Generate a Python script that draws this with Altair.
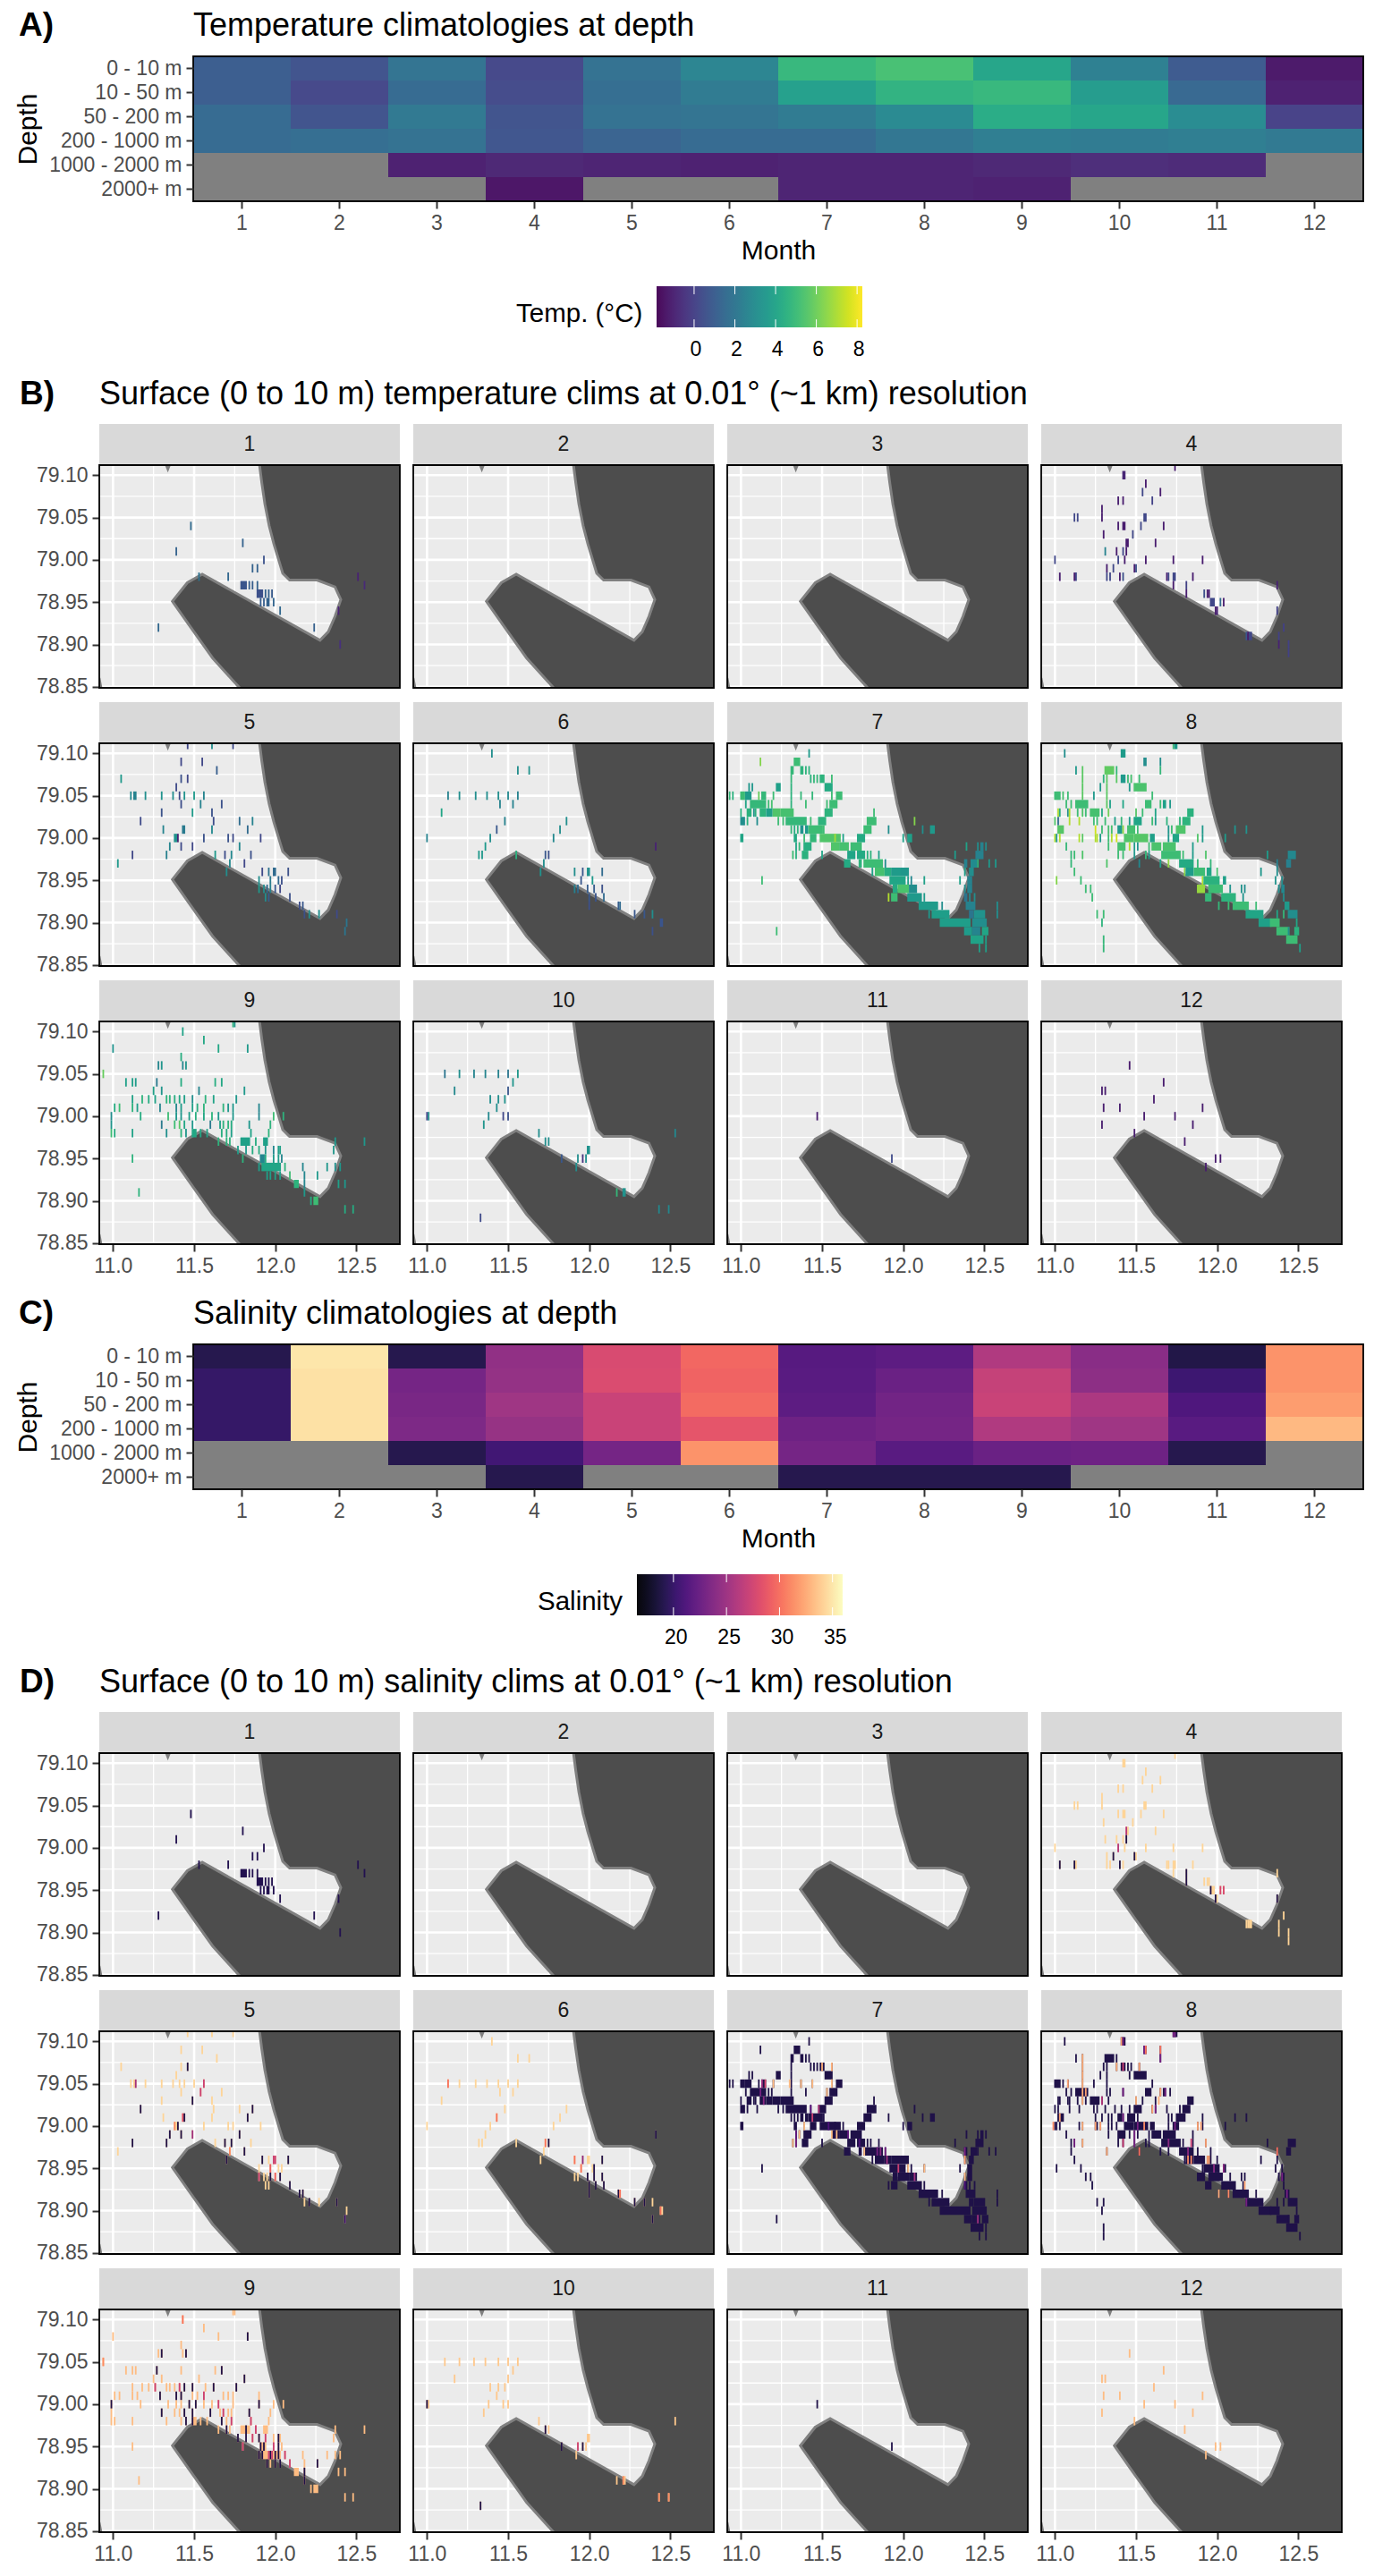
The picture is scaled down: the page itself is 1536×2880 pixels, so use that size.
import altair as alt
import pandas as pd

FONT = "Liberation Sans"
MONTHS = list(range(1, 13))
DEPTHS = ["0 - 10 m", "10 - 50 m", "50 - 200 m", "200 - 1000 m", "1000 - 2000 m", "2000+ m"]

TEMP_DOMAIN = [-1.93, 8.17]
SAL_DOMAIN = [16.3, 35.7]
TEMP_TICKS = [0, 2, 4, 6, 8]
SAL_TICKS = [20, 25, 30, 35]

# climatologies at depth: one row per depth, None = no data
TEMP_CLIM = [
    [0.90, 0.49, 1.81, 0.09, 1.71, 2.51, 4.74, 5.14, 3.93, 2.31, 0.80, -1.43],
    [0.90, 0.09, 1.40, 0.19, 1.50, 2.11, 3.73, 4.53, 4.74, 3.52, 1.30, -1.22],
    [1.40, 0.49, 2.01, 0.49, 1.71, 1.81, 2.11, 2.72, 4.23, 3.93, 2.82, -0.11],
    [1.40, 1.50, 1.71, 0.60, 1.10, 1.40, 1.40, 1.91, 2.21, 2.11, 2.21, 2.01],
    [None, None, -1.22, -1.02, -1.12, -1.22, -1.12, -1.12, -1.02, -0.82, -0.92, None],
    [None, None, None, -1.53, None, None, -1.12, -1.12, -1.22, None, None, None],
]
SAL_CLIM = [
    [18.8, 34.7, 18.8, 24.1, 27.6, 29.3, 21.2, 21.5, 25.6, 23.7, 18.6, 31.2],
    [19.6, 34.5, 22.7, 24.3, 27.7, 29.1, 21.3, 22.1, 26.6, 23.9, 20.0, 31.2],
    [19.6, 34.5, 22.9, 24.8, 26.8, 29.5, 21.5, 22.5, 26.8, 25.4, 20.8, 31.6],
    [19.6, 34.5, 23.1, 24.4, 26.8, 28.3, 22.3, 22.7, 25.6, 24.8, 21.3, 32.8],
    [None, None, 18.8, 20.2, 22.7, 31.2, 22.7, 21.3, 22.1, 22.3, 18.8, None],
    [None, None, None, 18.8, None, None, 18.8, 18.8, 18.8, None, None, None],
]

# surface cells per month: {lat: [(lon, temp) or (lon_from, lon_to, temp), ...]}
CELLS = {
    1: {
        79.04: [(11.48, 1.5)], 79.02: [(11.80, 1.2)], 79.01: [(11.39, 1.2)], 79.00: [(11.93, 0.6)],
        78.99: [(11.86, 1.2), (11.89, 1.2)], 78.98: [(11.53, 1.8), (11.71, 1.4), (12.51, -1.0)],
        78.97: [(11.79, 11.82, 0.7), (11.84, 1.0), (11.86, 1.0), (11.89, 1.2), (12.55, -0.8)],
        78.96: [(11.89, 11.92, 0.5), (11.94, 1.2), (11.96, 1.2), (11.98, 0.9)],
        78.95: [(11.91, 1.0), (11.93, 1.0), (11.95, 11.96, 1.2), (11.99, 1.3)],
        78.94: [(12.03, 1.4), (12.39, -1.0)], 78.92: [(11.28, 1.4), (12.24, 1.1)], 78.90: [(12.40, -0.6)],
    },
    2: {},
    3: {},
    4: {
        79.11: [(11.74, -1.2)], 79.10: [(11.42, 11.43, -0.9)], 79.09: [(11.56, -1.2)],
        79.08: [(11.54, 0.2), (11.65, -1.2)], 79.07: [(11.39, -1.2), (11.42, -1.2), (11.60, 0.0)],
        79.06: [(11.29, -1.2)], 79.05: [(11.12, 0.2), (11.14, 0.2), (11.29, -1.2), (11.55, 11.56, 0.2)],
        79.04: [(11.39, -1.2), (11.42, 11.43, -1.2), (11.53, 0.2), (11.67, -1.2)],
        79.03: [(11.30, -1.2), (11.48, 0.2)], 79.02: [(11.44, 11.45, -1.2), (11.62, -1.2)],
        79.01: [(11.31, 2.5), (11.38, -1.2), (11.42, 0.2), (11.44, -1.2)],
        79.00: [(11.00, 0.2), (11.39, 0.2), (11.43, -1.2), (11.56, -1.2), (11.73, -1.2), (11.91, -1.2)],
        78.99: [(11.32, -1.2), (11.36, 0.2), (11.49, -1.2), (11.50, 0.5)],
        78.98: [(11.03, -1.2), (11.12, -1.2), (11.13, 0.2), (11.32, 0.2), (11.34, 0.2), (11.40, -1.2),
                (11.42, 0.5), (11.69, -1.2), (11.70, 0.2), (11.73, 11.74, 0.2), (11.85, -1.2)],
        78.97: [(11.73, -1.2), (11.81, 0.0), (12.37, -1.0)],
        78.96: [(11.81, -1.2), (11.92, 0.5), (11.94, -1.2), (11.95, -1.2)],
        78.95: [(11.96, 11.98, 0.2), (12.02, 1.5), (12.04, -1.2)],
        78.94: [(11.99, -1.2), (12.00, -1.0), (12.37, 0.0)], 78.92: [(12.41, 0.0)],
        78.91: [(12.18, 0.8), (12.19, -1.2), (12.20, 12.21, 0.2), (12.38, 0.0)],
        78.90: [(12.38, -1.0), (12.44, 0.0)], 78.89: [(12.44, 0.0)],
    },
    5: {
        79.11: [(11.46, 0.2), (11.61, 3.0), (11.74, 0.3)], 79.09: [(11.42, 0.2), (11.55, 0.2)], 79.08: [(11.64, 1.0)],
        79.07: [(11.05, 3.5), (11.42, 0.5), (11.46, 0.2)], 79.06: [(11.39, 0.3)],
        79.05: [(11.11, 2.8), (11.13, 11.14, 2.5), (11.20, 3.0), (11.30, 3.2), (11.37, 3.0), (11.41, 0.3),
                (11.44, 3.2), (11.50, 3.5), (11.56, 2.6)],
        79.04: [(11.42, 0.4), (11.54, 2.5), (11.67, 0.6)], 79.03: [(11.30, 0.6), (11.49, 3.6), (11.61, 0.6)],
        79.02: [(11.17, 0.3), (11.62, 0.4), (11.78, 1.6), (11.86, 2.5)],
        79.01: [(11.31, 2.6), (11.43, 11.44, 2.2), (11.61, 2.8), (11.83, 1.5)],
        79.00: [(11.38, 11.39, 3.2), (11.40, -1.0), (11.56, 0.6), (11.71, 0.6), (11.74, 0.3), (11.91, 0.2)],
        78.99: [(11.35, 2.6), (11.42, 0.3), (11.49, 0.2), (11.78, 2.8)],
        78.98: [(11.12, 0.2), (11.33, 2.4), (11.63, 3.5), (11.69, 0.4), (11.73, 2.8), (11.85, 0.5)],
        78.97: [(11.03, 3.5), (11.72, 2.8), (11.81, 0.2)],
        78.96: [(11.70, 3.0), (11.92, 0.3), (11.96, 1.8), (11.99, 12.00, 1.5), (12.08, 0.5)],
        78.95: [(11.90, 3.0), (11.97, 2.2), (12.02, 1.4), (12.04, 0.5)],
        78.94: [(11.90, 3.5), (11.93, 3.0), (11.95, 1.5), (11.97, 2.5), (12.00, 0.8), (12.03, 0.2)],
        78.93: [(11.94, 3.0), (11.96, 1.0), (12.09, 0.5)], 78.92: [(12.15, 0.4), (12.17, 0.8)],
        78.91: [(12.18, 0.5), (12.21, 3.0), (12.27, 3.0), (12.38, 0.3)], 78.90: [(12.44, 2.0)], 78.89: [(12.43, 2.0)],
    },
    6: {
        79.10: [(11.40, 3.0)], 79.08: [(11.56, 3.0), (11.63, 3.2)],
        79.05: [(11.13, 2.5), (11.20, 3.0), (11.30, 3.0), (11.37, 3.0), (11.44, 3.0), (11.50, 2.8), (11.56, 2.5)],
        79.04: [(11.45, 2.5), (11.53, 2.5)], 79.03: [(11.09, 4.0)], 79.02: [(11.48, 2.5), (11.86, 3.0)],
        79.01: [(11.43, 0.8), (11.82, 3.0)], 79.00: [(11.00, 2.5), (11.39, 3.0), (11.78, 2.8)],
        78.99: [(11.36, 3.5), (12.41, -1.0)],
        78.98: [(11.32, 3.5), (11.34, 3.5), (11.55, 4.5), (11.73, 0.8), (11.75, 0.5)], 78.97: [(11.72, 3.0)],
        78.96: [(11.70, 3.2), (11.91, 3.0), (11.96, 0.8), (11.99, 12.00, 3.2), (12.08, 1.5)],
        78.95: [(11.95, 0.8), (12.02, 3.5)],
        78.94: [(11.91, 2.5), (11.93, 1.5), (11.99, 1.0), (12.03, 0.9), (12.08, 0.5)],
        78.93: [(12.00, 0.8), (12.04, 0.7), (12.09, 1.5)], 78.92: [(12.00, 0.5), (12.18, 1.0), (12.19, 1.5)],
        78.91: [(12.28, 0.8), (12.34, 0.8), (12.39, 3.0)], 78.90: [(12.44, 12.45, 0.7)], 78.89: [(12.39, 0.5)],
    },
    7: {
        79.10: [(11.42, 3.6)], 79.09: [(11.12, 6.3), (11.33, 11.36, 5.0)],
        79.08: [(11.31, 11.32, 4.8), (11.37, 11.38, 4.6), (11.40, 4.6), (11.42, 4.6)],
        79.07: [(11.31, 4.8), (11.43, 4.5), (11.45, 4.8), (11.47, 4.8), (11.49, 11.51, 4.6), (11.56, 5.0)],
        79.06: [(11.05, 3.4), (11.07, 3.4), (11.22, 11.24, 3.8), (11.31, 4.6), (11.52, 11.56, 4.2)],
        79.05: [(10.93, 4.8), (10.95, 4.5), (11.00, 11.02, 5.0), (11.03, 11.06, 3.6), (11.11, 5.8), (11.13, 11.15, 4.8),
                (11.20, 5.0), (11.31, 4.6), (11.37, 4.8), (11.44, 4.8), (11.56, 5.0), (11.59, 11.62, 5.0)],
        79.04: [(11.03, 4.0), (11.06, 11.15, 4.8), (11.17, 5.0), (11.19, 5.2), (11.31, 4.6), (11.40, 5.0), (11.53, 5.0),
                (11.55, 11.59, 5.0)],
        79.03: [(11.00, 4.5), (11.04, 11.06, 4.5), (11.08, 3.2), (11.09, 4.5), (11.12, 11.15, 4.6), (11.16, 11.19, 3.8),
                (11.20, 11.24, 5.4), (11.25, 11.32, 5.2), (11.52, 11.56, 4.6), (11.82, 5.0)],
        79.02: [(11.00, 11.02, 3.0), (11.04, 4.5), (11.10, 3.0), (11.23, 5.0), (11.26, 5.0), (11.28, 11.40, 4.8),
                (11.43, 5.0), (11.48, 11.52, 4.6), (11.78, 11.83, 5.0), (12.07, 6.3)],
        79.01: [(11.31, 4.8), (11.33, 4.4), (11.35, 4.6), (11.37, 11.38, 3.2), (11.40, 11.41, 3.5), (11.42, 11.50, 5.0),
                (11.51, 5.0), (11.76, 11.80, 5.0), (11.91, 3.0), (12.12, 3.0), (12.17, 12.19, 3.5)],
        79.00: [(11.00, 11.01, 4.0), (11.33, 11.34, 4.2), (11.39, 5.0), (11.43, 11.46, 4.8), (11.49, 11.61, 5.4),
                (11.58, 6.8), (11.63, 3.8), (11.72, 11.76, 4.2), (12.00, 3.8), (12.03, 12.05, 3.8)],
        78.99: [(11.34, 4.0), (11.36, 4.8), (11.39, 11.43, 4.4), (11.56, 11.60, 5.4), (11.61, 11.66, 5.2),
                (11.68, 11.74, 5.0), (12.39, 3.9), (12.46, 3.0), (12.48, 12.49, 2.5), (12.51, 3.0)],
        78.98: [(11.32, 5.0), (11.34, 4.5), (11.38, 11.41, 4.5), (11.50, 4.0), (11.66, 11.70, 4.0), (11.72, 11.76, 4.2),
                (11.78, 4.5), (11.80, 4.6), (11.85, 3.8), (12.32, 3.6), (12.45, 12.49, 2.5)],
        78.97: [(11.64, 11.67, 4.2), (11.73, 11.74, 4.6), (11.76, 11.87, 5.0), (11.89, 3.0), (12.38, 12.39, 2.5),
                (12.42, 12.45, 2.9), (12.46, 4.6), (12.53, 3.5), (12.57, 3.5)],
        78.96: [(11.81, 3.8), (11.83, 11.88, 5.2), (11.89, 11.92, 4.4), (11.93, 11.98, 3.6), (11.99, 12.03, 3.4),
                (12.38, 3.8), (12.41, 12.43, 3.0)],
        78.95: [(11.13, 5.0), (11.92, 12.01, 4.0), (12.03, 3.6), (12.05, 2.8), (12.13, 3.8), (12.35, 3.8), (12.40, 12.42, 2.5)],
        78.94: [(11.94, 11.96, 4.2), (11.97, 12.03, 5.3), (12.04, 12.08, 3.0), (12.38, 3.0), (12.40, 12.42, 2.5)],
        78.93: [(11.91, 7.0), (11.93, 11.96, 5.0), (12.03, 12.11, 3.5), (12.13, 3.6), (12.38, 12.39, 2.0), (12.41, 2.8), (12.44, 3.0)],
        78.92: [(12.10, 12.21, 3.6), (12.24, 3.0), (12.39, 12.44, 2.5), (12.58, 3.0)],
        78.91: [(12.16, 3.4), (12.18, 12.28, 3.7), (12.41, 12.43, 2.0), (12.44, 12.50, 3.2), (12.58, 3.0)],
        78.90: [(12.23, 12.41, 3.7), (12.43, 12.51, 3.0)],
        78.89: [(11.22, 5.0), (12.38, 12.42, 3.6), (12.43, 12.47, 2.6), (12.49, 12.52, 4.0)],
        78.88: [(12.42, 12.49, 3.9), (12.51, 3.8)], 78.87: [(12.47, 3.8), (12.51, 3.8)],
    },
    8: {
        79.11: [(11.73, 5.0), (11.74, 11.75, 3.5)], 79.10: [(11.06, 3.0), (11.41, 11.43, 3.6)],
        79.09: [(11.55, 11.56, 3.0), (11.65, 3.0)],
        79.08: [(11.13, 3.5), (11.17, 5.6), (11.31, 11.36, 5.7), (11.38, 4.8), (11.65, 4.8)],
        79.07: [(11.17, 5.6), (11.30, 4.6), (11.32, 5.6), (11.38, 5.6), (11.41, 11.43, 3.5), (11.45, 5.0), (11.47, 5.2), (11.52, 5.0)],
        79.06: [(11.17, 5.6), (11.28, 3.5), (11.32, 5.6), (11.46, 3.5), (11.49, 11.56, 5.3)],
        79.05: [(11.00, 11.03, 5.0), (11.05, 5.2), (11.08, 5.0), (11.17, 5.6), (11.24, 3.5), (11.32, 5.6), (11.60, 5.0)],
        79.04: [(11.07, 5.0), (11.10, 5.0), (11.13, 11.20, 5.0), (11.32, 5.6), (11.34, 3.8), (11.42, 4.0), (11.56, 11.59, 5.0),
                (11.65, 5.0), (11.67, 11.68, 3.8), (11.71, 3.5)],
        79.03: [(11.02, 7.0), (11.03, 4.4), (11.08, 3.0), (11.09, 7.0), (11.14, 5.0), (11.17, 5.4), (11.19, 5.0),
                (11.22, 11.27, 5.2), (11.29, 4.2), (11.33, 6.0), (11.50, 5.5), (11.54, 5.0), (11.62, 4.0), (11.82, 11.85, 4.5)],
        79.02: [(11.00, 5.4), (11.02, 1.5), (11.09, 7.0), (11.15, 7.0), (11.24, 5.0), (11.26, 5.0), (11.31, 5.0), (11.37, 3.8),
                (11.41, 4.8), (11.46, 3.5), (11.49, 11.53, 4.0), (11.60, 5.0), (11.62, 3.5), (11.69, 4.6), (11.77, 4.6), (11.79, 11.83, 4.6)],
        79.01: [(11.02, 11.05, 5.5), (11.25, 7.5), (11.29, 5.0), (11.33, 5.2), (11.35, 5.2), (11.39, 11.41, 3.5), (11.42, 6.5),
                (11.45, 11.49, 5.2), (11.51, 5.0), (11.70, 3.4), (11.72, 5.0), (11.75, 11.80, 5.4), (11.91, 3.5), (12.11, 3.2), (12.18, 3.2)],
        79.00: [(11.00, 7.0), (11.01, 3.3), (11.03, 7.0), (11.15, 7.0), (11.17, 5.6), (11.25, 7.0), (11.26, 7.0), (11.28, 3.5),
                (11.33, 5.0), (11.35, 7.0), (11.38, 7.5), (11.43, 11.48, 5.4), (11.49, 11.57, 5.5), (11.59, 11.61, 3.8), (11.70, 3.4),
                (11.73, 11.76, 4.0), (11.88, 5.4), (11.91, 3.6), (12.05, 3.6)],
        78.99: [(11.07, 4.8), (11.33, 5.0), (11.39, 11.43, 5.2), (11.46, 7.0), (11.49, 3.6), (11.51, 3.2), (11.58, 5.0),
                (11.60, 11.65, 5.3), (11.67, 11.74, 5.3), (11.85, 3.6)],
        78.98: [(11.10, 4.8), (11.12, 5.0), (11.17, 5.4), (11.39, 5.0), (11.42, 5.0), (11.49, 3.5), (11.56, 4.8), (11.58, 3.5),
                (11.66, 11.77, 5.0), (11.79, 5.0), (11.85, 3.6), (11.93, 5.4), (12.31, 3.6), (12.44, 12.48, 2.8)],
        78.97: [(11.10, 4.8), (11.32, 5.4), (11.52, 2.8), (11.65, 3.8), (11.70, 6.5), (11.77, 11.85, 4.2), (11.88, 4.8),
                (11.96, 4.8), (12.37, 12.37, 2.4), (12.43, 12.45, 2.4)],
        78.96: [(11.12, 5.0), (11.80, 6.4), (11.81, 11.85, 3.6), (11.86, 11.92, 5.0), (11.94, 11.96, 4.0), (12.00, 5.2), (12.27, 3.4), (12.37, 3.0)],
        78.95: [(11.01, 6.3), (11.16, 5.0), (11.91, 7.0), (11.92, 12.01, 4.5), (12.04, 12.05, 3.8), (12.36, 3.2), (12.40, 3.0)],
        78.94: [(11.19, 5.0), (11.22, 5.0), (11.88, 11.92, 6.6), (11.95, 12.03, 5.0), (12.08, 3.2), (12.15, 3.2), (12.17, 3.0),
                (12.38, 3.0), (12.40, 12.41, 2.8)],
        78.93: [(11.23, 5.0), (11.93, 11.96, 4.8), (12.03, 12.11, 4.6), (12.16, 3.2), (12.41, 3.0)],
        78.92: [(12.01, 4.8), (12.07, 5.0), (12.10, 12.19, 5.0), (12.24, 5.0), (12.42, 12.44, 3.5)],
        78.91: [(11.26, 5.0), (11.30, 5.0), (12.18, 12.28, 4.0), (12.37, 4.0), (12.41, 4.8), (12.44, 12.49, 3.0)],
        78.90: [(11.29, 4.6), (12.26, 12.33, 3.8), (12.33, 12.38, 5.0), (12.49, 4.0)],
        78.89: [(12.37, 12.44, 5.0), (12.44, 3.0), (12.48, 12.50, 4.5)],
        78.88: [(11.30, 4.8), (12.43, 12.49, 5.0)], 78.87: [(11.30, 4.8), (12.51, 3.8)],
    },
    9: {
        79.11: [(11.74, 4.6), (11.75, 3.4)], 79.10: [(11.43, 3.9)], 79.09: [(11.56, 4.1)],
        79.08: [(11.00, 3.2), (11.65, 4.1), (11.83, 3.5)], 79.07: [(11.42, 4.4)],
        79.06: [(11.28, 2.7), (11.30, 3.3), (11.43, 2.7), (11.45, 3.3)], 79.05: [(10.94, 5.8)],
        79.04: [(11.08, 3.8), (11.12, 3.8), (11.14, 3.6), (11.27, 2.2), (11.42, 4.3), (11.63, 4.4), (11.67, 4.1)],
        79.03: [(11.25, 3.8), (11.30, 3.3), (11.53, 2.7), (11.81, 3.5)],
        79.02: [(11.12, 3.9), (11.18, 4.6), (11.22, 4.3), (11.26, 3.9), (11.33, 4.6), (11.35, 4.6), (11.38, 4.4), (11.41, 4.1),
                (11.44, 3.8), (11.49, 3.1), (11.57, 4.6), (11.62, 3.9), (11.76, 3.4)],
        79.01: [(11.01, 4.3), (11.04, 5.0), (11.12, 4.6), (11.15, 3.8), (11.29, 2.7), (11.39, 2.8), (11.42, 3.6), (11.49, 3.8),
                (11.52, 4.4), (11.56, 4.6), (11.68, 4.6), (11.71, 3.4), (11.74, 3.4), (11.90, 2.7)],
        79.00: [(10.99, 3.0), (11.17, 4.3), (11.34, 5.0), (11.39, 3.4), (11.42, 3.4), (11.47, 3.7), (11.51, 4.4), (11.56, 4.1),
                (11.61, 4.6), (11.65, 3.4), (11.74, 3.4), (11.90, 2.7), (11.99, 5.0), (12.05, 4.6)],
        78.99: [(10.99, 3.3), (11.30, 2.2), (11.38, 5.0), (11.41, 5.5), (11.44, 4.1), (11.49, 3.4), (11.60, 2.2), (11.66, 3.8),
                (11.68, 4.6), (11.71, 4.6), (11.73, 4.3), (11.84, 3.4), (11.97, 4.6)],
        78.98: [(10.99, 5.0), (11.01, 4.3), (11.12, 3.9), (11.33, 3.1), (11.42, 4.6), (11.45, 3.4), (11.49, 11.51, 4.1), (11.54, 4.1),
                (11.58, 3.9), (11.67, 4.4), (11.70, 4.3), (11.73, 3.8), (11.85, 3.9), (11.96, 4.6)],
        78.97: [(11.65, 4.6), (11.70, 4.6), (11.72, 4.6), (11.79, 11.84, 3.8), (11.88, 4.3), (11.93, 11.95, 3.8), (12.37, 3.4), (12.55, 3.4)],
        78.96: [(11.77, 3.7), (11.82, 3.5), (11.86, 4.3), (11.90, 4.3), (11.94, 3.4), (11.99, 2.7), (12.02, 3.8), (12.03, 3.8), (12.36, 3.4)],
        78.95: [(11.12, 4.6), (11.80, 4.6), (11.91, 11.93, 2.7), (11.94, 4.3), (11.99, 3.6), (12.02, 3.6), (12.04, 2.7)],
        78.94: [(11.90, 3.7), (11.92, 12.03, 4.0), (12.06, 4.6), (12.17, 2.7), (12.32, 3.4), (12.37, 3.1), (12.40, 3.4)],
        78.93: [(11.95, 3.8), (11.97, 3.8), (12.00, 3.8), (12.03, 3.8), (12.09, 5.0), (12.18, 2.7), (12.26, 3.5)],
        78.92: [(12.12, 12.14, 4.6), (12.18, 2.7), (12.39, 3.8), (12.43, 3.4)], 78.91: [(11.16, 4.6), (12.18, 3.5)],
        78.90: [(12.22, 4.3), (12.24, 12.26, 5.0)], 78.89: [(12.43, 4.3), (12.48, 4.3)],
    },
    10: {
        79.05: [(11.11, 2.0), (11.20, 3.0), (11.29, 2.6), (11.36, 2.6), (11.44, 2.5), (11.50, 2.0), (11.56, 3.4)],
        79.04: [(11.53, 3.3)], 79.03: [(11.17, 2.8), (11.50, 0.8)], 79.02: [(11.39, 3.0), (11.44, 3.0), (11.48, 3.2)],
        79.01: [(11.43, 3.0)], 79.00: [(11.00, 0.0), (11.01, 3.0), (11.38, 2.8), (11.47, 0.2), (11.50, 0.5)],
        78.99: [(11.35, 3.3)], 78.98: [(11.69, 3.0), (12.53, 2.8)], 78.97: [(11.73, 3.0), (11.75, 3.0)],
        78.96: [(11.99, 12.00, 3.2)], 78.95: [(11.83, 0.8), (11.93, 3.0), (11.96, -0.5), (11.98, 3.0)], 78.94: [(11.92, 3.0)],
        78.91: [(12.17, 4.8), (12.21, 12.22, 3.2)], 78.89: [(12.43, 2.8), (12.49, 2.8)], 78.88: [(11.33, 0.3)],
    },
    11: {79.00: [(11.47, -1.2)], 78.95: [(11.93, 0.3)]},
    12: {
        79.06: [(11.46, -1.3)], 79.04: [(11.67, -1.2)], 79.03: [(11.29, -1.2), (11.31, -1.2)], 79.02: [(11.61, -1.2)],
        79.01: [(11.30, -1.2), (11.40, -1.2), (11.91, -1.2)], 79.00: [(11.55, -1.2), (11.74, -1.2)],
        78.99: [(11.29, -1.2), (11.85, -1.2)], 78.98: [(11.49, -1.2)], 78.97: [(11.80, -1.2)],
        78.95: [(11.99, -1.2), (12.02, -1.2)], 78.94: [(11.93, -1.2)],
    },
}

# typical salinity of a month's cells, and (lat, lon, salinity) for the ones that differ
SAL_BASE = {1: 19.0, 2: 19.0, 3: 19.0, 4: 34.0, 5: 34.0, 6: 34.0, 7: 18.8, 8: 18.8, 9: 33.0, 10: 33.5, 11: 18.8, 12: 33.0}
SAL_SPOTS = {
    4: [(78.98, 11.03, 18.8), (78.98, 11.12, 18.8), (78.98, 11.40, 18.8), (79.00, 11.39, 26), (79.02, 11.44, 26), (78.97, 11.81, 18.8),
        (78.96, 11.81, 18.8), (78.95, 12.02, 27.5), (78.95, 12.04, 27.5), (78.95, 11.96, 18.8), (78.94, 11.99, 18.8), (78.94, 12.37, 18.8),
        (78.99, 11.36, 18.8), (78.99, 11.49, 18.8), (79.01, 11.44, 18.8)],
    5: [(79.07, 11.46, 18.8), (79.05, 11.14, 25), (79.05, 11.56, 27), (79.04, 11.54, 27), (79.03, 11.49, 18.8), (79.02, 11.17, 18.8),
        (79.02, 11.86, 18.8), (79.01, 11.43, 28), (79.01, 11.44, 18.8), (79.01, 11.83, 18.8), (79.00, 11.40, 18.8), (79.00, 11.38, 31),
        (78.99, 11.35, 18.8), (78.99, 11.49, 25), (78.99, 11.42, 18.8), (78.99, 11.78, 18.8), (78.98, 11.12, 18.8), (78.98, 11.33, 18.8),
        (78.98, 11.69, 18.8), (78.98, 11.73, 18.8), (78.97, 11.72, 31), (78.97, 11.81, 18.8), (78.96, 11.70, 18.8), (78.96, 11.92, 18.8),
        (78.96, 11.99, 27), (78.96, 12.00, 27), (78.96, 12.08, 18.8), (78.95, 11.97, 29), (78.94, 11.90, 27), (78.94, 11.97, 18.8),
        (78.94, 12.00, 29), (78.94, 12.03, 18.8), (78.93, 12.09, 18.8), (78.92, 12.15, 18.8), (78.92, 12.17, 18.8), (78.91, 12.21, 18.8),
        (78.91, 12.38, 18.8), (78.89, 12.43, 20)],
    6: [(79.05, 11.13, 30), (79.01, 11.43, 30), (78.99, 12.41, 18.8), (78.98, 11.73, 30), (78.98, 11.75, 18.8), (78.96, 11.91, 30),
        (78.96, 11.96, 24), (78.96, 12.08, 18.8), (78.95, 11.95, 30), (78.95, 12.03, 18.8), (78.94, 11.99, 18.8), (78.94, 12.03, 18.8),
        (78.94, 12.08, 18.8), (78.93, 12.00, 18.8), (78.93, 12.04, 18.8), (78.93, 12.09, 18.8), (78.92, 12.00, 18.8), (78.92, 12.18, 18.8),
        (78.92, 12.19, 30), (78.91, 12.28, 18.8), (78.91, 12.34, 18.8), (78.90, 12.44, 30), (78.89, 12.39, 18.8)],
    7: [(79.07, 11.50, 32.5), (79.07, 11.56, 32.5), (79.05, 11.13, 25), (79.05, 11.15, 27.5), (79.05, 11.20, 33), (79.05, 11.30, 33),
        (79.05, 11.37, 33), (79.05, 11.44, 33), (79.05, 11.56, 33), (79.04, 11.12, 23), (79.04, 11.53, 33), (79.03, 11.14, 24),
        (79.02, 11.43, 22), (79.02, 11.48, 26), (79.01, 11.44, 27), (79.00, 11.39, 33), (79.00, 11.54, 21), (78.99, 11.34, 22),
        (78.99, 11.36, 33), (78.99, 11.56, 33), (78.99, 11.59, 33), (78.99, 11.66, 22), (78.98, 11.32, 33), (78.98, 11.34, 23),
        (78.98, 11.73, 21), (78.97, 11.76, 33), (78.97, 11.84, 23), (78.97, 11.86, 24), (78.97, 11.89, 23), (78.97, 12.38, 23),
        (78.96, 11.90, 25), (78.96, 12.38, 32), (78.95, 11.97, 27), (78.95, 12.03, 33), (78.95, 12.13, 33), (78.94, 12.07, 25),
        (78.94, 12.38, 33), (78.93, 12.38, 21), (78.89, 12.46, 25)],
    8: [(79.11, 11.73, 23), (79.11, 11.74, 23), (79.10, 11.41, 32), (79.10, 11.42, 23), (79.09, 11.55, 23), (79.09, 11.56, 30), (79.09, 11.65, 30),
        (79.08, 11.17, 32.5), (79.08, 11.65, 23), (79.07, 11.17, 32.5), (79.07, 11.38, 32.5), (79.07, 11.42, 27), (79.07, 11.52, 32),
        (79.06, 11.17, 32.5), (79.05, 11.08, 32), (79.05, 11.17, 32.5), (79.04, 11.17, 32.5), (79.04, 11.19, 32), (79.04, 11.42, 23),
        (79.04, 11.65, 32), (79.04, 11.68, 23), (79.03, 11.17, 32.5), (79.03, 11.29, 26), (79.03, 11.50, 32.5), (79.03, 11.64, 32.5),
        (79.02, 11.60, 32), (79.02, 11.62, 23), (79.01, 11.03, 32), (79.01, 11.42, 23), (79.00, 10.99, 31), (79.00, 11.17, 32.5),
        (79.00, 11.25, 32), (79.00, 11.28, 32), (79.00, 11.51, 23), (79.00, 11.55, 31), (79.00, 11.74, 23), (79.00, 11.88, 32), (79.00, 11.90, 32),
        (78.99, 11.49, 23), (78.98, 11.12, 23), (78.98, 11.17, 32.5), (78.98, 11.42, 27), (78.98, 11.49, 23), (78.98, 11.70, 24), (78.98, 11.84, 27),
        (78.98, 11.93, 32), (78.97, 11.32, 32.5), (78.97, 11.52, 30), (78.97, 11.82, 24), (78.97, 12.37, 30), (78.96, 11.82, 31), (78.96, 11.84, 31),
        (78.96, 11.94, 32), (78.96, 11.95, 32), (78.95, 11.98, 24), (78.95, 12.04, 24), (78.94, 12.40, 23), (78.93, 12.17, 32),
        (78.92, 12.01, 32.5), (78.92, 12.07, 31), (78.92, 12.43, 23), (78.91, 12.18, 23)],
    9: [(79.02, 11.49, 18.8), (79.02, 11.44, 18.8), (79.02, 11.62, 18.8), (79.00, 11.47, 18.8), (79.00, 11.51, 18.8), (79.01, 11.42, 18.8),
        (78.99, 11.30, 18.8), (78.99, 11.44, 18.8), (78.99, 11.49, 18.8), (78.98, 11.49, 18.8), (78.98, 11.45, 18.8), (79.06, 11.30, 18.8),
        (79.06, 11.45, 18.8), (79.04, 11.27, 18.8), (78.97, 11.82, 18.8), (78.96, 11.82, 18.8), (78.96, 11.90, 18.8), (78.95, 11.93, 18.8),
        (78.95, 12.02, 18.8), (78.94, 11.90, 18.8), (78.94, 11.92, 18.8), (78.94, 11.97, 18.8), (78.94, 12.00, 18.8), (78.94, 12.02, 18.8),
        (78.93, 11.95, 18.8), (78.93, 12.00, 18.8), (78.93, 12.26, 18.8), (78.92, 12.18, 18.8), (78.91, 12.18, 18.8), (79.00, 10.99, 18.8),
        (79.02, 11.41, 27), (79.01, 11.56, 27), (78.99, 11.68, 27), (78.98, 11.73, 27), (78.96, 11.94, 27), (78.95, 11.99, 27), (78.94, 11.96, 27),
        (79.04, 11.67, 18.8), (79.03, 11.81, 18.8), (79.02, 11.26, 27), (79.02, 11.76, 18.8), (79.01, 11.29, 18.8), (79.01, 11.39, 18.8),
        (79.00, 11.65, 27), (79.00, 11.90, 18.8), (78.99, 11.84, 18.8), (78.99, 11.60, 18.8), (78.98, 11.67, 18.8), (78.98, 11.85, 27),
        (78.97, 11.88, 27), (78.97, 11.70, 18.8), (78.96, 11.77, 18.8), (78.96, 11.86, 27), (78.96, 12.02, 18.8), (78.95, 11.80, 27),
        (78.95, 11.91, 18.8), (78.94, 11.98, 27), (78.94, 12.06, 27), (78.93, 12.03, 18.8), (78.93, 12.09, 27), (79.08, 11.83, 18.8),
        (79.05, 10.94, 31), (79.10, 11.43, 30)],
    10: [(79.00, 11.00, 18.8), (78.88, 11.33, 18.8), (78.95, 11.83, 18.8), (78.95, 11.96, 18.8), (78.95, 11.93, 27), (78.97, 11.73, 18.8),
         (78.91, 12.21, 31), (78.89, 12.43, 31), (78.89, 12.49, 31)],
}

# coastline polygons (lon, lat)
MAIN_LON = [12.90, 11.903, 11.903, 11.917, 11.936, 11.963, 11.991, 12.046, 12.088, 12.257, 12.368, 12.404, 12.368, 12.327, 12.276,
            11.550, 11.458, 11.366, 11.476, 11.614, 11.779, 11.80, 12.90]
MAIN_LAT = [79.13, 79.13, 79.112, 79.091, 79.066, 79.040, 79.019, 78.984, 78.976, 78.976, 78.968, 78.953, 78.933, 78.915, 78.905,
            78.983, 78.973, 78.951, 78.921, 78.884, 78.849, 78.83, 78.83]
TOP_LON = [11.320, 11.338, 11.356]
TOP_LAT = [79.116, 79.1075, 79.116]
CORNER_LON = [10.90, 10.9154, 10.935, 10.90]
CORNER_LAT = [78.859, 78.859, 78.84, 78.84]

LON_DOMAIN = [10.9154, 12.768]
LAT_DOMAIN = [78.8488, 79.1119]
LON_MAJOR = [11.0, 11.5, 12.0, 12.5]
LON_MINOR = [11.25, 11.75, 12.25]
LAT_MAJOR = [78.85, 78.90, 78.95, 79.00, 79.05, 79.10]
LAT_MINOR = [78.875, 78.925, 78.975, 79.025, 79.075]

W, H = 336, 249
HX0, HW, HH = 105, 1308, 162
TICK = 8
TICK_COLOR = "#333333"
LABEL_COLOR = "#4D4D4D"
LABEL_SIZE = 23
TITLE_SIZE = 36
AXIS_TITLE_SIZE = 30
TAG_SIZE = 37
ONE = pd.DataFrame({"a": [1]})

LAND_COLOR = "#4D4D4D"
COAST_COLOR = "#808080"
LEGEND_TOP = 257


def axis_style(**kw):
    return dict(domain=False, grid=False, ticks=True, tickColor=TICK_COLOR, tickSize=TICK, tickWidth=2,
                labelColor=LABEL_COLOR, labelFontSize=LABEL_SIZE, labelFont=FONT, labelPadding=5, **kw)


X_SCALE = alt.Scale(domain=LON_DOMAIN, nice=False, zero=False)
Y_SCALE = alt.Scale(domain=LAT_DOMAIN, nice=False, zero=False)


def make_cells(month, field):
    rows = []
    for lat, items in CELLS[month].items():
        for it in items:
            lo, hi, t = (it[0], it[0], it[1]) if len(it) == 2 else it
            rows.append(dict(x0=lo - 0.005, x1=hi + 0.005, y0=lat - 0.005, y1=lat + 0.005,
                             v=t if field == "temp" else SAL_BASE[month]))
    if field == "sal":
        for lat, lon, s in SAL_SPOTS.get(month, []):
            rows.append(dict(x0=lon - 0.005, x1=lon + 0.005, y0=lat - 0.005, y1=lat + 0.005, v=s))
    return pd.DataFrame(rows)


def text_layer(text, x, y, size, bold=False, align="left", baseline="alphabetic", color="black"):
    kw = dict(fontWeight="bold") if bold else {}
    return alt.Chart(ONE).mark_text(text=text, align=align, baseline=baseline, fontSize=size, font=FONT,
                                    color=color, **kw).encode(x=alt.value(x), y=alt.value(y))


def border(x0, w, h):
    return alt.Chart(ONE).mark_rect(filled=False, color="black", strokeWidth=1.8).encode(
        x=alt.value(x0), x2=alt.value(x0 + w), y=alt.value(0), y2=alt.value(h))


def polygon(lons, lats, xax, yax):
    d = pd.DataFrame({"lon": lons, "lat": lats, "i": range(len(lons))})
    return alt.Chart(d).mark_line(fill=LAND_COLOR, stroke=COAST_COLOR, strokeWidth=3, clip=True).encode(
        x=alt.X("lon:Q", scale=X_SCALE, axis=xax), y=alt.Y("lat:Q", scale=Y_SCALE, axis=yax), order=alt.Order("i:Q"))


def panel(month, field, scale, show_x, show_y, title=None, tag=None):
    xax = alt.Axis(values=LON_MAJOR, format=".1f", title=None, **axis_style()) if show_x else None
    yax = alt.Axis(values=LAT_MAJOR, format=".2f", title=None, **axis_style()) if show_y else None
    layers = [
        alt.Chart(ONE).mark_rect(color="#D9D9D9").encode(x=alt.value(0), x2=alt.value(W), y=alt.value(-46), y2=alt.value(0)),
        text_layer(str(month), W / 2, -23, LABEL_SIZE, align="center", baseline="middle", color="#1A1A1A"),
        alt.Chart(ONE).mark_rect(color="#EBEBEB").encode(x=alt.value(0), x2=alt.value(W), y=alt.value(0), y2=alt.value(H)),
        alt.Chart(pd.DataFrame({"lon": LON_MINOR})).mark_rule(color="white", strokeWidth=1.3).encode(
            x=alt.X("lon:Q", scale=X_SCALE, axis=xax)),
        alt.Chart(pd.DataFrame({"lat": LAT_MINOR})).mark_rule(color="white", strokeWidth=1.3).encode(
            y=alt.Y("lat:Q", scale=Y_SCALE, axis=yax)),
        alt.Chart(pd.DataFrame({"lon": LON_MAJOR})).mark_rule(color="white", strokeWidth=2.6).encode(
            x=alt.X("lon:Q", scale=X_SCALE, axis=xax)),
        alt.Chart(pd.DataFrame({"lat": LAT_MAJOR})).mark_rule(color="white", strokeWidth=2.6).encode(
            y=alt.Y("lat:Q", scale=Y_SCALE, axis=yax)),
        polygon(MAIN_LON, MAIN_LAT, xax, yax),
        polygon(TOP_LON, TOP_LAT, xax, yax),
        polygon(CORNER_LON, CORNER_LAT, xax, yax),
    ]
    cells = make_cells(month, field)
    if len(cells):
        layers.append(alt.Chart(cells).mark_rect(clip=True).encode(
            x=alt.X("x0:Q", scale=X_SCALE, axis=xax), x2="x1:Q",
            y=alt.Y("y0:Q", scale=Y_SCALE, axis=yax), y2="y1:Q",
            color=alt.Color("v:Q", scale=scale, legend=None)))
    layers.append(border(0, W, H))
    if title:
        layers.append(text_layer(title, 0, -68, TITLE_SIZE))
        layers.append(text_layer(tag, -89, -68, TAG_SIZE, bold=True))
    return alt.layer(*layers).properties(width=W, height=H)


def heat(values, scale, legend_title, legend_ticks, legend_x, title, tag):
    recs, nas = [], []
    for depth, row in zip(DEPTHS, values):
        for month, v in zip(MONTHS, row):
            (nas if v is None else recs).append(dict(month=month, depth=depth, v=v))
    x_scale = alt.Scale(domain=MONTHS, range=[HX0, HX0 + HW])
    y_scale = alt.Scale(domain=DEPTHS)
    x_ax = alt.Axis(labelAngle=0, title="Month", titleFontSize=AXIS_TITLE_SIZE, titleFontWeight="normal", titleColor="black",
                    titleFont=FONT, titlePadding=4, **axis_style())
    y_ax = alt.Axis(title="Depth", titleFontSize=AXIS_TITLE_SIZE, titleFontWeight="normal", titleColor="black",
                    titleFont=FONT, titlePadding=8, offset=-HX0, **axis_style())
    legend = alt.Legend(orient="none", legendX=HX0 + legend_x, legendY=LEGEND_TOP, direction="horizontal", title=legend_title,
                        titleOrient="left", titleFontSize=29.5, titleFontWeight="normal", titleColor="black",
                        titleFont=FONT, titlePadding=15, titleAnchor="end", labelFontSize=LABEL_SIZE, labelFont=FONT,
                        labelColor="black", labelOffset=14, values=legend_ticks, gradientLength=230, gradientThickness=46,
                        gradientStrokeWidth=0, labelOverlap=False)
    layers = [
        alt.Chart(pd.DataFrame(nas)).mark_rect(color="#808080").encode(
            x=alt.X("month:O", scale=x_scale, axis=x_ax),
            y=alt.Y("depth:N", scale=y_scale, axis=y_ax)),
        alt.Chart(pd.DataFrame(recs)).mark_rect(opacity=0.97).encode(
            x=alt.X("month:O", scale=x_scale, axis=x_ax),
            y=alt.Y("depth:N", scale=y_scale, axis=y_ax),
            color=alt.Color("v:Q", scale=scale, legend=legend)),
        border(HX0, HW, HH),
        text_layer(title, HX0, -23, TITLE_SIZE),
        text_layer(tag, HX0 - 195, -23, TAG_SIZE, bold=True),
    ]
    return alt.layer(*layers).properties(width=W, height=HH)


def blank(w, h):
    return alt.Chart(ONE).mark_point(opacity=0, size=1).encode(x=alt.value(0), y=alt.value(0)).properties(width=w, height=h)


def spacer_row(h):
    return [blank(W, h) for _ in range(4)]


def legend_ticks_row(h, scale, ticks, bar_x):
    # white colourbar ticks sit in the following grid cell, so they draw above the legend
    lo, hi = scale.domain
    layers = []
    top = LEGEND_TOP - HH
    for t in ticks:
        px = HX0 + bar_x + (t - lo) / (hi - lo) * 230
        for y0, y1 in ((top, top + 9), (top + 37, top + 46)):
            layers.append(alt.Chart(ONE).mark_rule(color="white", strokeWidth=1).encode(
                x=alt.value(px), y=alt.value(y0), y2=alt.value(y1)))
    return [alt.layer(*layers).properties(width=W, height=h)] + [blank(W, h) for _ in range(3)]


TEMP_SCALE = alt.Scale(scheme="viridis", domain=TEMP_DOMAIN)
SAL_SCALE = alt.Scale(scheme="magma", domain=SAL_DOMAIN)


def section(values, scale, lt, ticks, lx, bx, head, tag1, surf, tag2, field):
    items = [heat(values, scale, lt, ticks, lx, head, tag1), blank(W, HH), blank(W, HH), blank(W, HH)]
    items += legend_ticks_row(295, scale, ticks, bx)
    for r in range(3):
        for c in range(4):
            m = r * 4 + c + 1
            items.append(panel(m, field, scale, r == 2, c == 0,
                               title=surf if m == 1 else None, tag=tag2 if m == 1 else None))
        if r < 2:
            items += spacer_row(62)
    return items


items = section(TEMP_CLIM, TEMP_SCALE, "Temp. (°C)", TEMP_TICKS, 361, 516,
                "Temperature climatologies at depth", "A)",
                "Surface (0 to 10 m) temperature clims at 0.01° (~1 km) resolution", "B)", "temp")
items += spacer_row(112)
items += section(SAL_CLIM, SAL_SCALE, "Salinity", SAL_TICKS, 385, 493,
                 "Salinity climatologies at depth", "C)",
                 "Surface (0 to 10 m) salinity clims at 0.01° (~1 km) resolution", "D)", "sal")

chart = alt.concat(*items, columns=4).properties(
    align="none", bounds="flush", spacing={"row": 0, "column": 15},
    padding={"left": 8, "top": 2, "right": 0, "bottom": 0},
).resolve_scale(color="independent").configure_view(stroke=None)

chart.save("out.html", embed_options={"renderer": "svg", "actions": False})
